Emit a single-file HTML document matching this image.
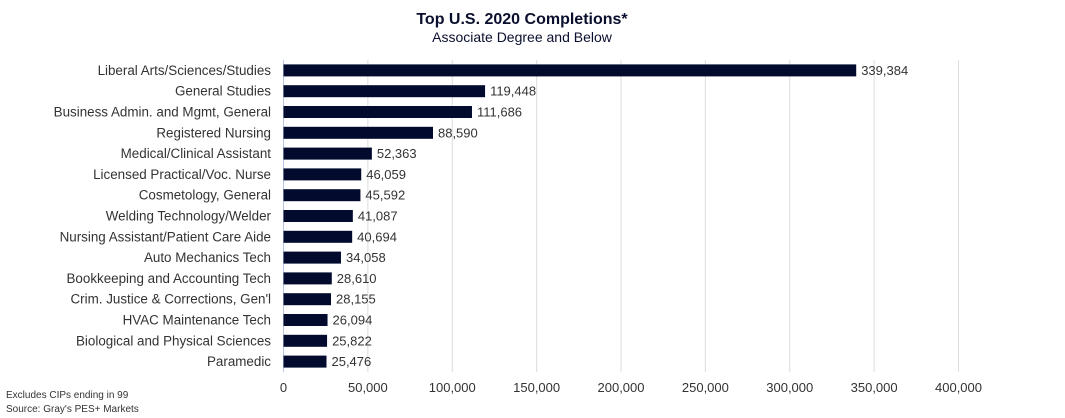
<!DOCTYPE html>
<html><head><meta charset="utf-8"><style>
body{margin:0;background:#fff;width:1065px;height:418px;overflow:hidden;font-family:"Liberation Sans",Arial,sans-serif}
svg{display:block}
</style></head><body>
<svg width="1065" height="418" xmlns="http://www.w3.org/2000/svg">
<text x="522" y="24" text-anchor="middle" font-size="16" font-weight="bold" fill="#0a0f2e">Top U.S. 2020 Completions*</text>
<text x="522" y="42" text-anchor="middle" font-size="14" fill="#0a0f2e">Associate Degree and Below</text>
<g id="grid"></g><g id="bars"></g><g id="xaxis"></g>
<text x="6" y="398" font-size="10" fill="#333">Excludes CIPs ending in 99</text>
<text x="6" y="412" font-size="10" fill="#333">Source:  Gray's PES+ Markets</text>
</svg>
<script>
const categories=["Liberal Arts/Sciences/Studies","General Studies","Business Admin. and Mgmt, General","Registered Nursing","Medical/Clinical Assistant","Licensed Practical/Voc. Nurse","Cosmetology, General","Welding Technology/Welder","Nursing Assistant/Patient Care Aide","Auto Mechanics Tech","Bookkeeping and Accounting Tech","Crim. Justice & Corrections, Gen'l","HVAC Maintenance Tech","Biological and Physical Sciences","Paramedic"];
const values=[339384,119448,111686,88590,52363,46059,45592,41087,40694,34058,28610,28155,26094,25822,25476];
const ticks=[0,50000,100000,150000,200000,250000,300000,350000,400000];
const NS="http://www.w3.org/2000/svg";
const x0=283.5,x1=958.5,xmax=400000,yTop=60,yBot=372;
const xs=v=>x0+(v/xmax)*(x1-x0);
const step=(yBot-yTop)/categories.length;
const yc=i=>yTop+step*(i+0.5);
const fmt=v=>v.toLocaleString("en-US");
function mk(t,a,p){const e=document.createElementNS(NS,t);for(const k in a)e.setAttribute(k,a[k]);p.appendChild(e);return e;}
const grid=document.getElementById("grid"),bars=document.getElementById("bars"),xa=document.getElementById("xaxis");
ticks.forEach(t=>{
 const l=mk("line",{x1:xs(t),x2:xs(t),y1:yTop,y2:yBot,stroke:t===0?"#b8c4e6":"#dcdcdc","stroke-width":1},grid);
 
 
 const tx=mk("text",{x:xs(t),y:392,"text-anchor":"middle","font-size":13,fill:"#333"},xa);
 tx.textContent=fmt(t);
 
 
});
categories.forEach((c,i)=>{
 const y=yc(i);
 const lb=mk("text",{x:271,y:y+4.5,"text-anchor":"end","font-size":13.4,fill:"#333"},bars);
 lb.textContent=c;
 
 
 const r=mk("rect",{x:x0,y:y-6,width:xs(values[i])-x0,height:12,fill:"#020b2e"},bars);
 
 
 const v=mk("text",{x:xs(values[i])+5,y:y+4.5,"font-size":13,fill:"#333"},bars);
 v.textContent=fmt(values[i]);
 
 
});
</script>
</body></html>
